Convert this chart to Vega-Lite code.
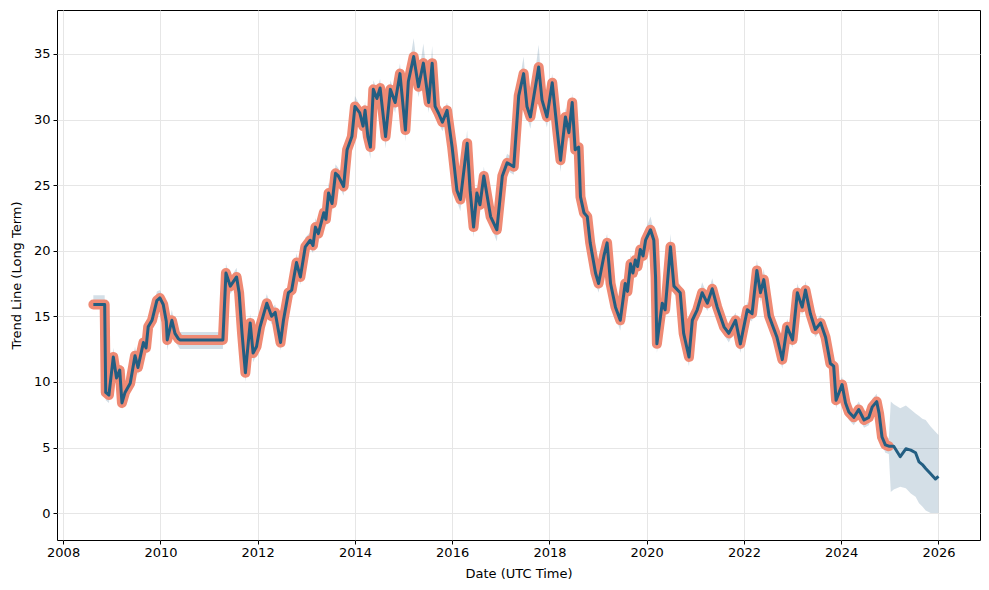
{
  "$schema": "https://vega.github.io/schema/vega-lite/v6.json",
  "width": 923,
  "height": 530,
  "autosize": {"type": "none"},
  "padding": {"left": 57, "top": 10, "right": 9, "bottom": 50},
  "background": "white",
  "config": {
    "view": {"stroke": "black", "strokeWidth": 1},
    "font": "DejaVu Sans",
    "axis": {
      "labelFont": "DejaVu Sans", "labelFontSize": 13, "labelColor": "black",
      "titleFont": "DejaVu Sans", "titleFontSize": 13, "titleFontWeight": "normal", "titleColor": "black",
      "tickColor": "black", "tickSize": 4, "domain": false,
      "gridColor": "#e6e6e6", "gridWidth": 1
    }
  },
  "data": {"values": [
    {"d":"2008-08-15","k":"a","y":15.9,"lo":15.6,"hi":16.6},
    {"d":"2008-11-08","k":"a","y":15.9,"lo":15.6,"hi":16.6},
    {"d":"2008-11-16","k":"a","y":9.2,"lo":8.6,"hi":9.8},
    {"d":"2008-12-10","k":"a","y":9.0,"lo":8.4,"hi":9.6},
    {"d":"2008-12-28","k":"a","y":10.6,"lo":10.0,"hi":11.2},
    {"d":"2009-01-12","k":"a","y":11.9,"lo":11.4,"hi":12.6},
    {"d":"2009-02-05","k":"a","y":10.3,"lo":9.7,"hi":11.0},
    {"d":"2009-03-01","k":"a","y":10.9,"lo":10.3,"hi":11.3},
    {"d":"2009-03-18","k":"a","y":8.4,"lo":7.9,"hi":9.0},
    {"d":"2009-04-10","k":"a","y":9.2,"lo":8.7,"hi":9.8},
    {"d":"2009-05-19","k":"a","y":9.9,"lo":9.3,"hi":10.5},
    {"d":"2009-06-24","k":"a","y":12.0,"lo":11.4,"hi":12.7},
    {"d":"2009-07-16","k":"a","y":11.1,"lo":10.5,"hi":11.6},
    {"d":"2009-08-26","k":"a","y":13.0,"lo":12.4,"hi":13.6},
    {"d":"2009-09-15","k":"a","y":12.6,"lo":12.0,"hi":13.2},
    {"d":"2009-10-01","k":"a","y":14.2,"lo":13.6,"hi":14.9},
    {"d":"2009-10-30","k":"a","y":14.7,"lo":14.1,"hi":15.3},
    {"d":"2009-12-05","k":"a","y":16.2,"lo":15.6,"hi":16.9},
    {"d":"2009-12-28","k":"a","y":16.4,"lo":15.8,"hi":17.0},
    {"d":"2010-01-22","k":"a","y":15.9,"lo":15.3,"hi":16.4},
    {"d":"2010-02-14","k":"a","y":14.6,"lo":14.0,"hi":15.2},
    {"d":"2010-02-21","k":"a","y":13.2,"lo":12.4,"hi":13.8},
    {"d":"2010-03-28","k":"a","y":14.7,"lo":14.1,"hi":15.5},
    {"d":"2010-04-20","k":"a","y":13.7,"lo":13.1,"hi":14.2},
    {"d":"2010-05-15","k":"a","y":13.3,"lo":12.7,"hi":13.9},
    {"d":"2010-05-27","k":"a","y":13.2,"lo":12.5,"hi":13.8},
    {"d":"2011-04-15","k":"a","y":13.2,"lo":12.5,"hi":13.8},
    {"d":"2011-05-08","k":"a","y":18.3,"lo":17.7,"hi":19.0},
    {"d":"2011-06-10","k":"a","y":17.3,"lo":16.7,"hi":17.9},
    {"d":"2011-07-27","k":"a","y":18.0,"lo":17.4,"hi":18.7},
    {"d":"2011-08-15","k":"a","y":16.8,"lo":16.2,"hi":17.4},
    {"d":"2011-09-06","k":"a","y":13.7,"lo":13.1,"hi":14.3},
    {"d":"2011-10-01","k":"a","y":10.7,"lo":10.0,"hi":11.3},
    {"d":"2011-11-06","k":"a","y":14.5,"lo":13.9,"hi":15.2},
    {"d":"2011-11-28","k":"a","y":12.2,"lo":11.5,"hi":12.8},
    {"d":"2011-12-24","k":"a","y":12.7,"lo":12.1,"hi":13.3},
    {"d":"2012-01-19","k":"a","y":14.2,"lo":13.6,"hi":14.8},
    {"d":"2012-03-10","k":"a","y":16.0,"lo":15.4,"hi":16.7},
    {"d":"2012-04-15","k":"a","y":15.0,"lo":14.4,"hi":15.6},
    {"d":"2012-05-12","k":"a","y":15.3,"lo":14.7,"hi":15.9},
    {"d":"2012-06-21","k":"a","y":13.0,"lo":12.4,"hi":13.6},
    {"d":"2012-07-13","k":"a","y":14.7,"lo":14.1,"hi":15.3},
    {"d":"2012-08-19","k":"a","y":16.8,"lo":16.2,"hi":17.4},
    {"d":"2012-09-13","k":"a","y":17.0,"lo":16.4,"hi":17.6},
    {"d":"2012-10-19","k":"a","y":19.1,"lo":18.5,"hi":19.8},
    {"d":"2012-11-17","k":"a","y":18.0,"lo":17.4,"hi":18.6},
    {"d":"2012-12-24","k":"a","y":20.3,"lo":19.7,"hi":21.0},
    {"d":"2013-01-30","k":"a","y":20.8,"lo":20.2,"hi":21.4},
    {"d":"2013-02-20","k":"a","y":20.4,"lo":19.8,"hi":21.0},
    {"d":"2013-03-10","k":"a","y":21.8,"lo":21.2,"hi":22.5},
    {"d":"2013-04-01","k":"a","y":21.3,"lo":20.6,"hi":21.9},
    {"d":"2013-05-12","k":"a","y":22.9,"lo":22.3,"hi":23.5},
    {"d":"2013-05-28","k":"a","y":22.4,"lo":21.8,"hi":23.0},
    {"d":"2013-06-17","k":"a","y":24.4,"lo":23.8,"hi":25.2},
    {"d":"2013-07-13","k":"a","y":23.6,"lo":22.9,"hi":24.2},
    {"d":"2013-08-08","k":"a","y":25.9,"lo":25.3,"hi":26.6},
    {"d":"2013-08-29","k":"a","y":25.7,"lo":25.1,"hi":26.3},
    {"d":"2013-10-08","k":"a","y":24.9,"lo":24.2,"hi":25.5},
    {"d":"2013-11-03","k":"a","y":27.7,"lo":27.1,"hi":28.5},
    {"d":"2013-12-09","k":"a","y":28.7,"lo":28.1,"hi":29.3},
    {"d":"2014-01-01","k":"a","y":31.0,"lo":30.4,"hi":31.8},
    {"d":"2014-02-06","k":"a","y":30.5,"lo":29.8,"hi":31.1},
    {"d":"2014-03-03","k":"a","y":29.5,"lo":28.8,"hi":30.1},
    {"d":"2014-03-18","k":"a","y":30.7,"lo":30.1,"hi":31.4},
    {"d":"2014-04-08","k":"a","y":28.7,"lo":28.0,"hi":29.3},
    {"d":"2014-04-27","k":"a","y":27.9,"lo":27.0,"hi":28.5},
    {"d":"2014-05-19","k":"a","y":32.3,"lo":31.6,"hi":33.0},
    {"d":"2014-06-15","k":"a","y":31.6,"lo":31.0,"hi":32.3},
    {"d":"2014-07-09","k":"a","y":32.4,"lo":31.8,"hi":33.1},
    {"d":"2014-08-19","k":"a","y":28.7,"lo":27.8,"hi":29.3},
    {"d":"2014-09-24","k":"a","y":32.3,"lo":31.7,"hi":33.0},
    {"d":"2014-10-30","k":"a","y":31.3,"lo":30.5,"hi":31.9},
    {"d":"2014-12-05","k":"a","y":33.5,"lo":32.9,"hi":34.3},
    {"d":"2015-01-15","k":"a","y":29.2,"lo":28.3,"hi":29.8},
    {"d":"2015-02-06","k":"a","y":32.9,"lo":32.3,"hi":33.7},
    {"d":"2015-03-18","k":"a","y":34.8,"lo":34.1,"hi":36.2},
    {"d":"2015-04-23","k":"a","y":32.5,"lo":31.7,"hi":33.2},
    {"d":"2015-05-30","k":"a","y":34.3,"lo":33.6,"hi":35.8},
    {"d":"2015-07-09","k":"a","y":31.3,"lo":30.5,"hi":32.0},
    {"d":"2015-08-04","k":"a","y":34.3,"lo":33.6,"hi":35.6},
    {"d":"2015-08-26","k":"a","y":31.0,"lo":30.3,"hi":31.7},
    {"d":"2015-09-20","k":"a","y":30.5,"lo":29.8,"hi":31.1},
    {"d":"2015-10-20","k":"a","y":29.8,"lo":29.1,"hi":30.4},
    {"d":"2015-11-24","k":"a","y":30.7,"lo":30.0,"hi":31.3},
    {"d":"2016-01-01","k":"a","y":27.9,"lo":27.2,"hi":28.6},
    {"d":"2016-02-06","k":"a","y":24.6,"lo":23.8,"hi":25.2},
    {"d":"2016-03-03","k":"a","y":23.9,"lo":23.0,"hi":24.5},
    {"d":"2016-04-23","k":"a","y":28.2,"lo":27.5,"hi":29.2},
    {"d":"2016-05-15","k":"a","y":24.6,"lo":23.9,"hi":25.2},
    {"d":"2016-06-10","k":"a","y":21.8,"lo":21.0,"hi":22.4},
    {"d":"2016-07-05","k":"a","y":24.4,"lo":23.8,"hi":25.0},
    {"d":"2016-07-28","k":"a","y":23.5,"lo":22.9,"hi":24.1},
    {"d":"2016-08-26","k":"a","y":25.7,"lo":25.0,"hi":26.4},
    {"d":"2016-10-16","k":"a","y":22.6,"lo":21.9,"hi":23.2},
    {"d":"2016-12-02","k":"a","y":21.6,"lo":20.7,"hi":22.2},
    {"d":"2017-01-12","k":"a","y":25.7,"lo":25.1,"hi":26.3},
    {"d":"2017-02-17","k":"a","y":26.7,"lo":26.1,"hi":27.4},
    {"d":"2017-04-08","k":"a","y":26.4,"lo":25.8,"hi":27.0},
    {"d":"2017-05-15","k":"a","y":31.8,"lo":31.1,"hi":32.6},
    {"d":"2017-06-21","k":"a","y":33.5,"lo":32.8,"hi":34.8},
    {"d":"2017-07-16","k":"a","y":31.0,"lo":30.2,"hi":31.6},
    {"d":"2017-08-11","k":"a","y":30.2,"lo":29.3,"hi":30.8},
    {"d":"2017-10-12","k":"a","y":34.0,"lo":33.3,"hi":35.7},
    {"d":"2017-11-06","k":"a","y":31.5,"lo":30.8,"hi":32.2},
    {"d":"2017-12-13","k":"a","y":30.2,"lo":29.4,"hi":30.8},
    {"d":"2018-01-22","k":"a","y":32.8,"lo":32.1,"hi":33.5},
    {"d":"2018-02-28","k":"a","y":29.2,"lo":28.5,"hi":29.8},
    {"d":"2018-03-25","k":"a","y":26.9,"lo":26.0,"hi":27.5},
    {"d":"2018-05-01","k":"a","y":30.2,"lo":29.6,"hi":30.9},
    {"d":"2018-05-27","k":"a","y":29.0,"lo":28.3,"hi":29.6},
    {"d":"2018-06-21","k":"a","y":31.3,"lo":30.7,"hi":32.0},
    {"d":"2018-07-13","k":"a","y":27.7,"lo":27.0,"hi":28.3},
    {"d":"2018-08-08","k":"a","y":27.9,"lo":27.2,"hi":28.5},
    {"d":"2018-08-22","k":"a","y":24.1,"lo":23.4,"hi":24.8},
    {"d":"2018-09-17","k":"a","y":22.9,"lo":22.2,"hi":23.6},
    {"d":"2018-10-12","k":"a","y":22.6,"lo":21.9,"hi":23.2},
    {"d":"2018-11-03","k":"a","y":20.6,"lo":19.9,"hi":21.3},
    {"d":"2018-12-13","k":"a","y":18.3,"lo":17.6,"hi":18.9},
    {"d":"2019-01-05","k":"a","y":17.5,"lo":16.8,"hi":18.1},
    {"d":"2019-02-14","k":"a","y":19.6,"lo":19.0,"hi":20.3},
    {"d":"2019-03-10","k":"a","y":20.6,"lo":20.0,"hi":21.3},
    {"d":"2019-04-05","k":"a","y":17.5,"lo":16.8,"hi":18.1},
    {"d":"2019-05-12","k":"a","y":15.7,"lo":15.0,"hi":16.3},
    {"d":"2019-06-17","k":"a","y":14.7,"lo":13.9,"hi":15.3},
    {"d":"2019-07-24","k":"a","y":17.5,"lo":16.9,"hi":18.2},
    {"d":"2019-08-10","k":"a","y":16.9,"lo":16.3,"hi":17.5},
    {"d":"2019-09-02","k":"a","y":19.0,"lo":18.4,"hi":19.7},
    {"d":"2019-09-20","k":"a","y":18.3,"lo":17.7,"hi":18.9},
    {"d":"2019-10-08","k":"a","y":19.3,"lo":18.6,"hi":19.9},
    {"d":"2019-10-25","k":"a","y":18.8,"lo":18.2,"hi":19.4},
    {"d":"2019-11-14","k":"a","y":20.1,"lo":19.5,"hi":20.8},
    {"d":"2019-12-05","k":"a","y":19.6,"lo":19.0,"hi":20.2},
    {"d":"2019-12-24","k":"a","y":20.8,"lo":20.2,"hi":21.6},
    {"d":"2020-01-30","k":"a","y":21.6,"lo":20.9,"hi":22.6},
    {"d":"2020-02-24","k":"a","y":20.8,"lo":20.2,"hi":21.5},
    {"d":"2020-03-08","k":"a","y":18.0,"lo":17.4,"hi":18.7},
    {"d":"2020-03-18","k":"a","y":12.9,"lo":12.2,"hi":13.5},
    {"d":"2020-04-27","k":"a","y":16.0,"lo":15.3,"hi":16.6},
    {"d":"2020-05-19","k":"a","y":15.5,"lo":14.9,"hi":16.1},
    {"d":"2020-06-28","k":"a","y":20.3,"lo":19.6,"hi":21.3},
    {"d":"2020-07-24","k":"a","y":17.3,"lo":16.7,"hi":17.9},
    {"d":"2020-09-09","k":"a","y":16.8,"lo":16.2,"hi":17.4},
    {"d":"2020-10-05","k":"a","y":13.7,"lo":13.1,"hi":14.3},
    {"d":"2020-11-14","k":"a","y":11.9,"lo":11.2,"hi":12.5},
    {"d":"2020-12-09","k":"a","y":14.7,"lo":14.1,"hi":15.3},
    {"d":"2021-01-15","k":"a","y":15.5,"lo":14.9,"hi":16.1},
    {"d":"2021-02-21","k":"a","y":16.8,"lo":16.2,"hi":17.6},
    {"d":"2021-04-01","k":"a","y":16.0,"lo":15.4,"hi":16.6},
    {"d":"2021-05-08","k":"a","y":17.1,"lo":16.5,"hi":17.9},
    {"d":"2021-06-14","k":"a","y":15.7,"lo":15.1,"hi":16.3},
    {"d":"2021-08-04","k":"a","y":14.2,"lo":13.6,"hi":14.8},
    {"d":"2021-09-09","k":"a","y":13.7,"lo":13.0,"hi":14.3},
    {"d":"2021-10-30","k":"a","y":14.7,"lo":14.1,"hi":15.3},
    {"d":"2021-12-05","k":"a","y":12.9,"lo":12.2,"hi":13.5},
    {"d":"2022-01-26","k":"a","y":15.5,"lo":14.9,"hi":16.1},
    {"d":"2022-03-03","k":"a","y":15.2,"lo":14.6,"hi":15.8},
    {"d":"2022-04-08","k":"a","y":18.5,"lo":17.9,"hi":19.3},
    {"d":"2022-05-05","k":"a","y":16.8,"lo":16.1,"hi":17.4},
    {"d":"2022-05-30","k":"a","y":17.8,"lo":17.2,"hi":18.6},
    {"d":"2022-07-09","k":"a","y":15.0,"lo":14.4,"hi":15.6},
    {"d":"2022-08-15","k":"a","y":14.0,"lo":13.4,"hi":14.6},
    {"d":"2022-09-06","k":"a","y":13.4,"lo":12.8,"hi":14.0},
    {"d":"2022-10-16","k":"a","y":11.7,"lo":11.0,"hi":12.3},
    {"d":"2022-11-21","k":"a","y":14.2,"lo":13.6,"hi":14.8},
    {"d":"2023-01-01","k":"a","y":13.2,"lo":12.6,"hi":13.8},
    {"d":"2023-02-06","k":"a","y":16.8,"lo":16.2,"hi":17.5},
    {"d":"2023-03-14","k":"a","y":15.7,"lo":15.1,"hi":16.3},
    {"d":"2023-04-08","k":"a","y":17.0,"lo":16.4,"hi":17.7},
    {"d":"2023-05-15","k":"a","y":15.2,"lo":14.6,"hi":15.8},
    {"d":"2023-06-21","k":"a","y":14.0,"lo":13.4,"hi":14.6},
    {"d":"2023-07-31","k":"a","y":14.5,"lo":13.9,"hi":15.1},
    {"d":"2023-09-06","k":"a","y":13.4,"lo":12.8,"hi":14.0},
    {"d":"2023-10-12","k":"a","y":11.4,"lo":10.8,"hi":12.0},
    {"d":"2023-11-06","k":"a","y":11.2,"lo":10.6,"hi":11.8},
    {"d":"2023-11-24","k":"a","y":8.6,"lo":8.0,"hi":9.2},
    {"d":"2023-12-13","k":"a","y":9.1,"lo":8.5,"hi":9.7},
    {"d":"2024-01-08","k":"a","y":9.8,"lo":9.2,"hi":10.4},
    {"d":"2024-02-03","k":"a","y":8.4,"lo":7.8,"hi":9.0},
    {"d":"2024-02-28","k":"a","y":7.7,"lo":7.1,"hi":8.3},
    {"d":"2024-04-05","k":"a","y":7.3,"lo":6.7,"hi":7.9},
    {"d":"2024-05-12","k":"a","y":7.9,"lo":7.3,"hi":8.5},
    {"d":"2024-06-21","k":"a","y":7.1,"lo":6.5,"hi":7.7},
    {"d":"2024-07-27","k":"a","y":7.3,"lo":6.7,"hi":7.9},
    {"d":"2024-08-22","k":"a","y":8.1,"lo":7.5,"hi":8.7},
    {"d":"2024-09-24","k":"a","y":8.5,"lo":7.9,"hi":9.1},
    {"d":"2024-10-12","k":"a","y":7.6,"lo":7.0,"hi":8.2},
    {"d":"2024-11-03","k":"a","y":5.8,"lo":5.2,"hi":6.4},
    {"d":"2024-11-28","k":"a","y":5.2,"lo":4.6,"hi":5.8},
    {"d":"2024-12-24","k":"a","y":5.1,"lo":4.5,"hi":5.7},
    {"d":"2025-01-08","k":"f","y":5.1,"lo":1.6,"hi":8.5},
    {"d":"2025-01-30","k":"f","y":5.1,"lo":1.8,"hi":8.3},
    {"d":"2025-03-20","k":"f","y":4.3,"lo":2.0,"hi":8.0},
    {"d":"2025-05-01","k":"f","y":4.9,"lo":1.9,"hi":8.2},
    {"d":"2025-06-07","k":"f","y":4.8,"lo":1.5,"hi":7.9},
    {"d":"2025-07-13","k":"f","y":4.6,"lo":1.25,"hi":7.6},
    {"d":"2025-08-08","k":"f","y":3.9,"lo":0.75,"hi":7.4},
    {"d":"2025-09-02","k":"f","y":3.7,"lo":0.5,"hi":7.2},
    {"d":"2025-09-27","k":"f","y":3.4,"lo":0.2,"hi":7.1},
    {"d":"2025-11-03","k":"f","y":3.0,"lo":0.0,"hi":6.6},
    {"d":"2025-12-09","k":"f","y":2.6,"lo":0.0,"hi":6.2},
    {"d":"2026-01-01","k":"f","y":2.8,"lo":0.0,"hi":5.95}
  ]},
  "encoding": {
    "x": {
      "field": "d", "type": "temporal",
      "scale": {"type": "utc", "domain": [{"year": 2007, "month": 11, "date": 16, "utc": true}, {"year": 2026, "month": 11, "date": 9, "utc": true}]},
      "axis": {
        "title": "Date (UTC Time)", "format": "%Y", "labelPadding": 2, "titlePadding": 8,
        "values": [
          {"year": 2008, "utc": true}, {"year": 2010, "utc": true}, {"year": 2012, "utc": true},
          {"year": 2014, "utc": true}, {"year": 2016, "utc": true}, {"year": 2018, "utc": true},
          {"year": 2020, "utc": true}, {"year": 2022, "utc": true}, {"year": 2024, "utc": true},
          {"year": 2026, "utc": true}
        ]
      }
    }
  },
  "layer": [
    {
      "mark": {"type": "area", "color": "#2a6085", "opacity": 0.2},
      "encoding": {
        "y": {"field": "lo", "type": "quantitative", "scale": {"domain": [-2.05, 38.35], "nice": false, "zero": false},
          "axis": {"title": "Trend Line (Long Term)", "values": [0, 5, 10, 15, 20, 25, 30, 35], "labelPadding": 3, "titlePadding": 10}},
        "y2": {"field": "hi"}
      }
    },
    {
      "transform": [{"filter": "datum.k == 'a'"}],
      "mark": {"type": "line", "color": "#EF8A74", "strokeWidth": 10, "strokeJoin": "round", "strokeCap": "round"},
      "encoding": {"y": {"field": "y", "type": "quantitative"}}
    },
    {
      "mark": {"type": "line", "color": "#235E82", "strokeWidth": 3, "strokeJoin": "round"},
      "encoding": {"y": {"field": "y", "type": "quantitative"}}
    }
  ]
}
